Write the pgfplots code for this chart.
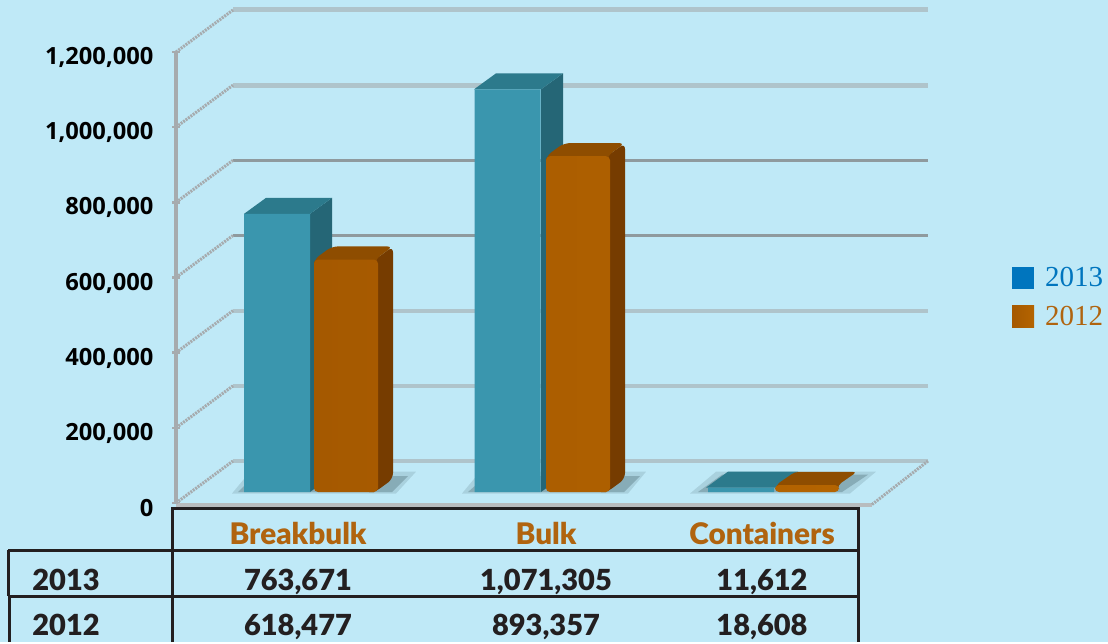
\documentclass[border=0pt]{standalone}
\usepackage{pgfplots}
\pgfplotsset{compat=1.18}
\usepackage{fontspec}
\setmainfont[BoldFont={Lato Black}]{Lato}
\newfontfamily\tickfont{Open Sans}
\newfontfamily\legfont{Liberation Serif}
\definecolor{bgc}{HTML}{BFE9F7}
\definecolor{tealF}{HTML}{3A96AE}
\definecolor{tealT}{HTML}{2C7A8C}
\definecolor{tealS}{HTML}{256676}
\definecolor{orFd}{HTML}{A55900}
\definecolor{orFl}{HTML}{B46400}
\definecolor{orT}{HTML}{8E4D00}
\definecolor{orS}{HTML}{763C00}
\definecolor{legB}{HTML}{0075BE}
\definecolor{legO}{HTML}{AD6208}
\definecolor{catO}{HTML}{B0640F}
\definecolor{ink}{HTML}{231F20}
\definecolor{gridD}{HTML}{8F9A9E}
\definecolor{gridL}{HTML}{AFC4CB}
\definecolor{axG}{HTML}{A6ABAE}
\begin{document}
\begin{tikzpicture}[x=1pt,y=1pt]
\fill[bgc] (0,0) rectangle (1108,642);
% main axis : frame, grid, tick labels
\begin{axis}[
  at={(176pt,139pt)},anchor=south west,
  width=696pt,height=451pt,scale only axis,
  xmin=176,xmax=872,ymin=0,ymax=1200000,
  clip=false,
  axis x line=none,
  axis y line*=left,
  axis line style={axG,line width=3.5pt,-},
  scaled y ticks=false,
  ytick={0,200000,400000,600000,800000,1000000,1200000},
  yticklabels={0,{200,000},{400,000},{600,000},{800,000},{1,000,000},{1,200,000}},
  tick style={axG,line width=2.5pt},
  tick align=center,
  major tick length=8pt,
  yticklabel style={font=\tickfont\bfseries\fontsize{23.7}{26}\selectfont,text=black,xshift=-15pt,yshift=-5.5pt},
]
% back-wall lines
\addplot[gridL,line width=5pt] coordinates {(233,1311750)(928,1311750)};
\addplot[gridL,line width=5pt] coordinates {(233,1111750)(928,1111750)};
\addplot[gridD,line width=3.5pt] coordinates {(233,911750)(928,911750)};
\addplot[gridD,line width=3.5pt] coordinates {(233,711750)(928,711750)};
\addplot[gridL,line width=4pt] coordinates {(233,511750)(928,511750)};
\addplot[gridL,line width=4pt] coordinates {(233,311750)(928,311750)};
\addplot[gridL,line width=4pt] coordinates {(233,111750)(928,111750)};
\addplot[axG!80!white,line width=4pt] coordinates {(176,-4000)(872,-4000)};
% side-wall diagonals
\addplot[axG,line width=3pt,dash pattern=on 2pt off 1pt] coordinates {(176,0)(233,111750)};
\addplot[axG,line width=3pt,dash pattern=on 2pt off 1pt] coordinates {(176,200000)(233,311750)};
\addplot[axG,line width=3pt,dash pattern=on 2pt off 1pt] coordinates {(176,400000)(233,511750)};
\addplot[axG,line width=3pt,dash pattern=on 2pt off 1pt] coordinates {(176,600000)(233,711750)};
\addplot[axG,line width=3pt,dash pattern=on 2pt off 1pt] coordinates {(176,800000)(233,911750)};
\addplot[axG,line width=3pt,dash pattern=on 2pt off 1pt] coordinates {(176,1000000)(233,1111750)};
\addplot[axG,line width=3pt,dash pattern=on 2pt off 1pt] coordinates {(176,1200000)(233,1311750)};
\addplot[axG,line width=3pt,dash pattern=on 2pt off 1pt] coordinates {(872,-4000)(928,111750)};
\end{axis}
% bars axis : same scale, floor of the bars 11 px above the front floor line
\begin{axis}[
  at={(176pt,150pt)},anchor=south west,
  width=696pt,height=451pt,scale only axis,
  xmin=176,xmax=872,ymin=0,ymax=1200000,
  clip=false,hide axis,
  legend style={at={(836pt,228pt)},anchor=north west,draw=none,fill=none,
     row sep=14pt,
     font=\legfont\fontsize{29}{30}\selectfont,inner sep=0pt,outer sep=0pt},
  legend cell align=left,
]
% floor shadows (two layers, for a soft edge)
\addplot[fill=black!60!tealS,opacity=.12,draw=none,forget plot] coordinates {(232,-4000)(396,-4000)(416,54000)(250,54000)} --cycle;
\addplot[fill=black!60!tealS,opacity=.22,draw=none,forget plot] coordinates {(238,0)(392,0)(408,42000)(254,42000)} --cycle;
\addplot[fill=black!60!tealS,opacity=.12,draw=none,forget plot] coordinates {(462,-4000)(628,-4000)(646,54000)(480,54000)} --cycle;
\addplot[fill=black!60!tealS,opacity=.22,draw=none,forget plot] coordinates {(468,0)(624,0)(640,42000)(486,42000)} --cycle;
\addplot[fill=black!60!tealS,opacity=.12,draw=none,forget plot] coordinates {(690,-4000)(850,-4000)(876,54000)(716,54000)} --cycle;
\addplot[fill=black!60!tealS,opacity=.22,draw=none,forget plot] coordinates {(698,0)(842,0)(868,46000)(722,46000)} --cycle;
% 2013 sides and tops
\addplot[fill=tealS,draw=none,forget plot] coordinates {(310,0)(332,42570)(332,782570)(310,740000)} --cycle;
\addplot[fill=tealT,draw=none,forget plot] coordinates {(244,740000)(266,782570)(332,782570)(310,740000)} --cycle;
\addplot[fill=tealS,draw=none,forget plot] coordinates {(541,0)(563,42570)(563,1113875)(541,1071305)} --cycle;
\addplot[fill=tealT,draw=none,forget plot] coordinates {(474,1071305)(496,1113875)(563,1113875)(541,1071305)} --cycle;
\addplot[fill=tealT,draw=none,forget plot] coordinates {(706,11612)(728,54182)(798,54182)(776,11612)} --cycle;
% 2013 front faces
\addplot[ybar,bar width=66pt,bar shift=0pt,fill=tealF,draw=none,
  legend image code/.code={\fill[legB,sharp corners] (0pt,-11pt) rectangle (22pt,11pt);}]
  coordinates {(277,740000)(507.5,1071305)(741,11612)};
\addlegendentry{\hspace{9pt}\textcolor{legB}{2013}}
% 2012 sides and tops
\addplot[fill=orS,draw=none,rounded corners=6pt,forget plot] coordinates {(368,0)(375,0)(393,35000)(393,653477)(375,618477)(368,618477)} --cycle;
\addplot[fill=orT,draw=none,rounded corners=6pt,forget plot] coordinates {(314,600000)(314,618477)(332,653477)(393,653477)(375,618477)(375,600000)} --cycle;
\addplot[fill=orS,draw=none,rounded corners=6pt,forget plot] coordinates {(600,0)(607,0)(625,35000)(625,928357)(607,893357)(600,893357)} --cycle;
\addplot[fill=orT,draw=none,rounded corners=6pt,forget plot] coordinates {(546,875000)(546,893357)(564,928357)(625,928357)(607,893357)(607,875000)} --cycle;
\addplot[fill=orT,draw=none,rounded corners=4pt,forget plot] coordinates {(776,5000)(776,18608)(795,53608)(857,53608)(838,18608)(838,5000)} --cycle;
% 2012 front faces
\addplot[ybar,bar width=64pt,bar shift=0pt,left color=orFd,right color=orFl,draw=none,rounded corners=4pt,
  legend image code/.code={\fill[legO,sharp corners] (0pt,-11pt) rectangle (22pt,11pt);}]
  coordinates {(346,618477)(578,893357)(807,18608)};
\addlegendentry{\hspace{9pt}\textcolor{catO}{2012}}
\end{axis}
% table
\begin{scope}[ink,line width=3pt]
\draw (172,0) -- (172,134) -- (858,134) -- (858,0);
\draw (8,92) -- (858,92);
\draw (8,46) -- (858,46);
\draw (8,92) -- (8,46);
\draw (9,46) -- (9,0);
\end{scope}
\tikzset{cat/.style={font=\bfseries\fontsize{29.7}{31}\selectfont,text=catO,anchor=base},
         val/.style={font=\bfseries\fontsize{29}{30}\selectfont,text=ink,anchor=base}}
\node[cat] at (298,98) {Breakbulk};
\node[cat] at (546,98) {Bulk};
\node[cat] at (762,98) {Containers};
\node[val] at (66,52) {2013};
\node[val] at (298,52) {763,671};
\node[val] at (546,52) {1,071,305};
\node[val] at (762,52) {11,612};
\node[val] at (66,7) {2012};
\node[val] at (298,7) {618,477};
\node[val] at (546,7) {893,357};
\node[val] at (762,7) {18,608};
\path[use as bounding box] (0,0) rectangle (1108,642);
\end{tikzpicture}
\end{document}
